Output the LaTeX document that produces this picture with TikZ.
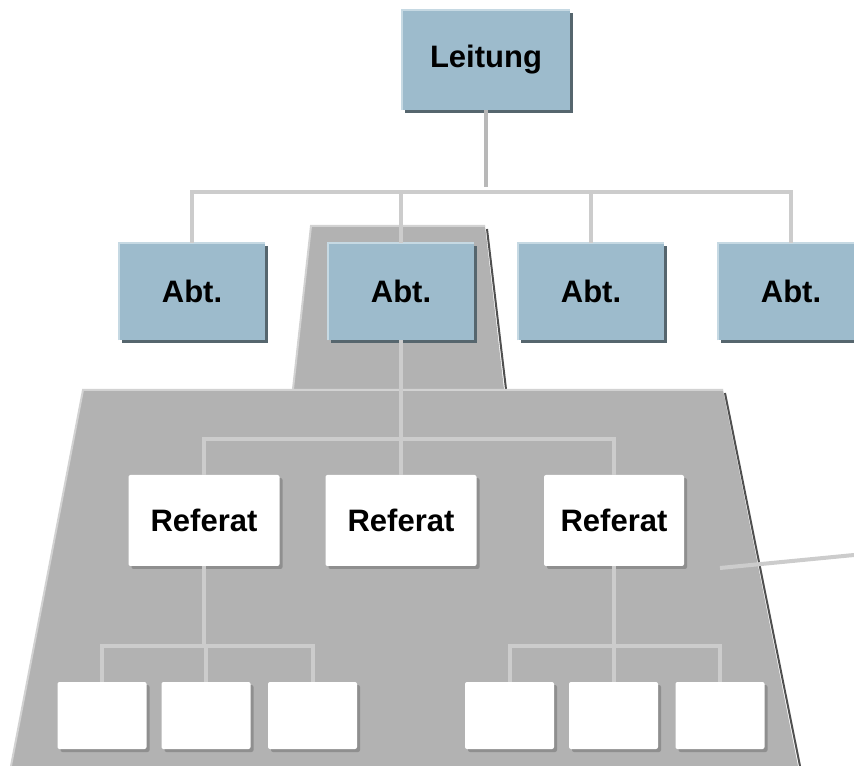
\documentclass[tikz,border=0pt]{standalone}
\usepackage{fontspec}
\setmainfont{Liberation Sans}
\usetikzlibrary{shadows}
\definecolor{abtblue}{HTML}{9DBBCC}
\definecolor{abtlight}{HTML}{C6D9E3}
\definecolor{abtshade}{HTML}{56666E}
\definecolor{trapgray}{HTML}{B2B2B2}
\definecolor{traplight}{HTML}{D2D2D2}
\definecolor{trapdark}{HTML}{505050}
\definecolor{linegray}{HTML}{CCCCCC}
\definecolor{leigray}{HTML}{B8B8B8}
\definecolor{boxshade}{HTML}{8F8F8F}

\begin{document}
\begin{tikzpicture}[x=0.75pt,y=-0.75pt,
    font=\fontsize{23.25}{28}\selectfont\bfseries,
    abtbox/.style={fill=abtblue,inner sep=0pt,minimum width=109.5pt,minimum height=72.75pt,
        drop shadow={shadow xshift=2.25pt,shadow yshift=-2.25pt,fill=abtshade,opacity=1}},
    refbox/.style={fill=white,inner sep=0pt,rounded corners=1.5pt,minimum width=113.25pt,minimum height=68.25pt,
        drop shadow={shadow xshift=2.25pt,shadow yshift=-2.25pt,fill=boxshade,opacity=1}},
    unitbox/.style={refbox,minimum width=66.75pt,minimum height=50.25pt},
    link/.style={draw=linegray,line width=3pt},
    hilite/.style={draw=abtlight,line width=1.5pt},
    rim/.style={line width=1.5pt}]

\path[use as bounding box,clip] (0,0) rectangle (854,766);

% areas of the Abteilung
\fill[trapgray] (311,226) -- (485,226) -- (504,389) -- (293,389) -- cycle;
\draw[rim,traplight] (293,389) -- (311,226) -- (485,226);
\draw[rim,trapdark] (487,229) -- (506,389);
\fill[trapgray] (83,390) -- (723,390) -- (798,766) -- (11,766) -- cycle;
\draw[rim,traplight] (11,766) -- (83,390) -- (723,390);
\draw[rim,trapdark] (725,393) -- (800,766);

% boxes
\node[abtbox,minimum width=126pt,minimum height=75pt] (lei) at (486,60) {Leitung};
\foreach \x [count=\i] in {192,401,591,791}
    \node[abtbox] (a\i) at (\x,291.5) {Abt.};
\foreach \n in {lei,a1,a2,a3,a4}
    \draw[hilite] (\n.south west) -- (\n.north west) -- (\n.north east);

\node[refbox] (r1) at (204,520.5) {Referat};
\node[refbox] (r2) at (401,520.5) {Referat};
\node[refbox,minimum width=105pt] (r3) at (614,520.5) {Referat};
\foreach \x [count=\i] in {102,206,312.5,509.5,613.5,720}
    \node[unitbox] (u\i) at (\x,715.5) {};

% connectors
\coordinate (bus1) at (0,192);
\coordinate (bus2) at (0,439);
\coordinate (bus3) at (0,646);
\coordinate (exit) at (854,555);

\draw[link,draw=leigray,line width=2.5pt,shorten >=4pt] (lei.south) -- (lei.south |- bus1);
\draw[link] (a1.north) -- (a1.north |- bus1) -- (a4.north |- bus1) -- (a4.north);
\foreach \i in {2,3}
    \draw[link] (a\i.north) -- (a\i.north |- bus1);

\draw[link] (a2.south) -- (r2.north);
\draw[link] (r1.north) -- (r1.north |- bus2) -- (r3.north |- bus2) -- (r3.north);

\draw[link] (r1.south) -- (r1.south |- bus3);
\draw[link] (u1.north) -- (u1.north |- bus3) -- (u3.north |- bus3) -- (u3.north);
\draw[link] (u2.north) -- (u2.north |- bus3);
\draw[link] (r3.south) -- (r3.south |- bus3);
\draw[link] (u4.north) -- (u4.north |- bus3) -- (u6.north |- bus3) -- (u6.north);
\draw[link] (u5.north) -- (u5.north |- bus3);

\draw[link] (720,568) -- (exit);

\end{tikzpicture}
\end{document}
